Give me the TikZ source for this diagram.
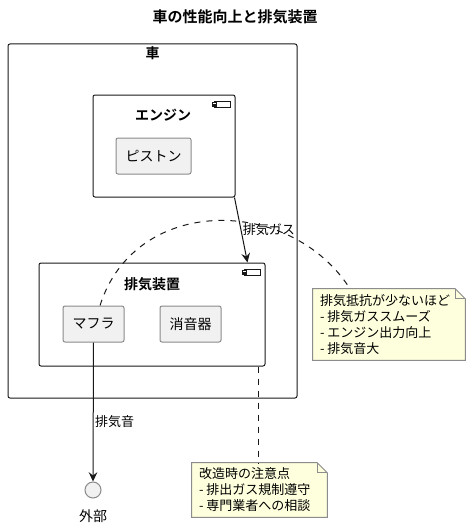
\documentclass[tikz,border=0pt]{standalone}
\usepackage{fontspec}
\setmainfont{Noto Sans CJK JP}[BoldFont={Noto Sans CJK JP Bold}]
\usetikzlibrary{calc,arrows.meta}

\definecolor{framecol}{HTML}{181818}
\definecolor{partfill}{HTML}{F1F1F1}
\definecolor{partline}{HTML}{8A8A8A}
\definecolor{notefill}{HTML}{FEFFDD}
\definecolor{noteline}{HTML}{8C8C8C}

\tikzset{
    container/.style={draw=framecol,line width=0.75pt,rounded corners=1.5pt,inner sep=0pt},
    grouplabel/.style={font=\bfseries\fontsize{10.5}{12}\selectfont,inner sep=0pt},
    part/.style={draw=partline,fill=partfill,line width=0.75pt,rounded corners=1.5pt,
        minimum width=45.75pt,minimum height=27pt,inner sep=0pt,font=\fontsize{10.5}{12}\selectfont},
    notebox/.style={inner sep=0pt,align=left,font=\fontsize{9.75}{12}\selectfont},
    flow/.style={draw=framecol,line width=0.75pt,-{Stealth[length=7pt,width=6.5pt,inset=2.5pt]}},
    link/.style={draw=framecol,line width=0.75pt,dash pattern=on 4.5pt off 4.5pt},
    flowlabel/.style={font=\fontsize{9.75}{12}\selectfont,inner sep=1pt}
}

% little component sign in the upper right corner of a box
\newcommand{\compicon}[1]{
    \draw[framecol,line width=0.75pt,fill=white] ($(#1.north east)+(-21,7)$) rectangle ($(#1.north east)+(-5,13)$);
    \draw[framecol,line width=0.6pt,fill=white] ($(#1.north east)+(-23,8)$) rectangle ($(#1.north east)+(-19,9.5)$);
    \draw[framecol,line width=0.6pt,fill=white] ($(#1.north east)+(-23,10.5)$) rectangle ($(#1.north east)+(-19,12)$);
}
% note outline with folded corner
\newcommand{\noteshape}[1]{
    \draw[noteline,fill=notefill,line width=0.75pt] (#1.north west) -- ($(#1.north east)+(-10,0)$)
        -- ($(#1.north east)+(0,10)$) -- (#1.south east) -- (#1.south west) -- cycle;
    \draw[noteline,line width=0.75pt] ($(#1.north east)+(-10,0)$) -- ($(#1.north east)+(-10,10)$) -- ($(#1.north east)+(0,10)$);
}

\begin{document}
\begin{tikzpicture}[x=0.75pt,y=-0.75pt]
    \useasboundingbox (0,0) rectangle (470,528);

    %%% TITLE %%%
    \node[font=\bfseries\fontsize{11.25}{13}\selectfont,inner sep=0pt] (title) at (235,17) {車の性能向上と排気装置};

    %%% CONTAINERS %%%
    \node[container,minimum width=216.75pt,minimum height=265.5pt] (car) at (152.5,221) {};
    \node[grouplabel] (carlbl) at ($(car.north)+(0,10)$) {車};

    \node[container,minimum width=106.5pt,minimum height=76.5pt] (engine) at (164,146) {};
    \node[grouplabel] (enginelbl) at ($(engine.north)+(-1,21)$) {エンジン};
    \compicon{engine}

    \node[container,minimum width=169.5pt,minimum height=77.25pt] (exh) at (152,314.5) {};
    \node[grouplabel] (exhlbl) at ($(exh.north)+(0,22)$) {排気装置};
    \compicon{exh}

    %%% PARTS %%%
    \node[part,minimum width=56.25pt] (piston) at (153.5,156) {ピストン};
    \node[part] (muffler) at (93.5,324) {マフラ};
    \node[part] (silencer) at (190.5,324) {消音器};

    %%% OUTSIDE %%%
    \node[circle,draw=partline,fill=partfill,line width=0.75pt,minimum size=12pt,inner sep=0pt] (outside) at (93,490) {};
    \node[font=\fontsize{10.5}{12}\selectfont,inner sep=0pt] (outsidelbl) at ($(outside.south)+(0,18)$) {外部};

    %%% NOTES %%%
    \node[notebox,minimum width=114pt,minimum height=53.25pt,text width=103.5pt] (note1) at (389,324.5) {};
    \noteshape{note1}
    \node[notebox,anchor=west] (note1txt) at ($(note1.west)+(7,0)$) {排気抵抗が少ないほど\\- 排気ガススムーズ\\- エンジン出力向上\\- 排気音大};

    \node[notebox,minimum width=101.25pt,minimum height=40.5pt,text width=90pt] (note2) at (259.5,490) {};
    \noteshape{note2}
    \node[notebox,anchor=west] (note2txt) at ($(note2.west)+(7,0)$) {改造時の注意点\\- 排出ガス規制遵守\\- 専門業者への相談};

    %%% CONNECTORS %%%
    \draw[flow] ([xshift=-0.75pt]engine.south east) -- node[flowlabel,right,pos=0.5] {排気ガス} ([xshift=-13.5pt]exh.north east);
    \draw[flow] (muffler.south) -- node[flowlabel,right,pos=0.57] {排気音} (outside.north);
    \draw[link] ([xshift=4.9pt]muffler.north) .. controls (135,195) and (290,195) .. ([xshift=-29.25pt]note1.north);
    \draw[link] ([xshift=-5.25pt]exh.south east) -- ([xshift=-5.25pt]exh.south east |- note2.north);
\end{tikzpicture}
\end{document}
